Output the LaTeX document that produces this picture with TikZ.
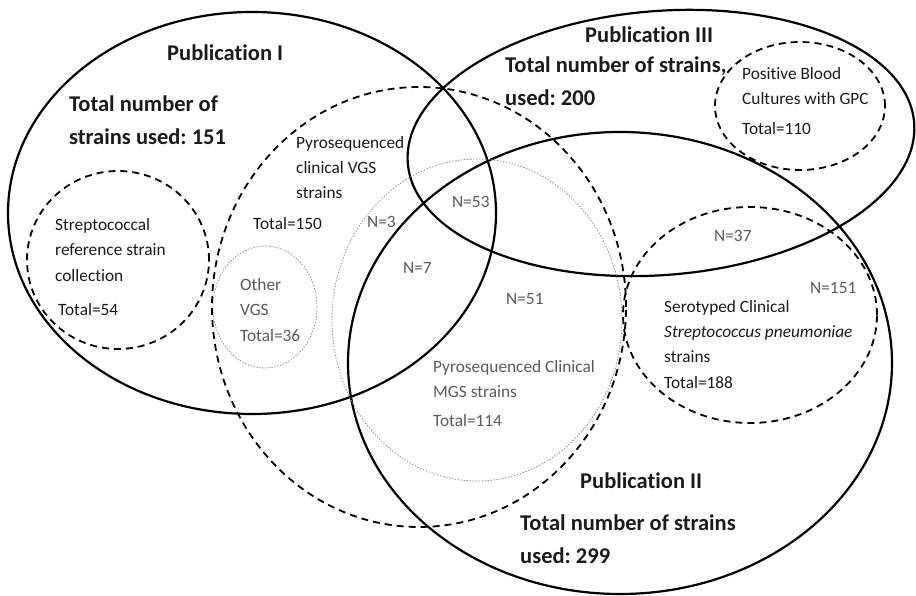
\documentclass[tikz,border=0pt]{standalone}
\usepackage{fontspec}
\setmainfont{Carlito}[Ligatures=CommonOff]
\usepackage{tikz}
\frenchspacing

\definecolor{inkdark}{HTML}{1A1A1A}
\definecolor{inkgray}{HTML}{5A5A5A}
\definecolor{dotgray}{HTML}{8C8C8C}

\tikzset{
  publine/.style={line width=2.2pt, draw=black},
  setline/.style={line width=1.8pt, draw=black, dash pattern=on 7pt off 5pt},
  subline/.style={line width=0.8pt, draw=dotgray, dash pattern=on 1.4pt off 1.6pt},
  headtxt/.style={font=\fontsize{22.5}{33}\selectfont\bfseries, text=inkdark,
    anchor=base west, inner sep=0pt, align=left},
  settxt/.style={font=\fontsize{17.3}{25.3}\selectfont, text=inkdark,
    anchor=base west, inner sep=0pt, align=left},
  cnttxt/.style={settxt, text=inkgray}
}

\begin{document}
\begin{tikzpicture}[x=1pt, y=-1pt]
\useasboundingbox (0,0) rectangle (916,596);
% ---------- centres of the sets ----------
\coordinate (pubI) at (252,213);
\coordinate (pubII) at (620,363);
\coordinate (pubIII) at (661,143);
\coordinate (vgs) at (419,307);
\coordinate (mgs) at (477,320);
\coordinate (othervgs) at (265,307);
\coordinate (refcoll) at (118,260);
\coordinate (blood) at (800,106);
\coordinate (sero) at (750,315);
% ---------- publications ----------
\draw[publine] (pubI) ellipse [x radius=244pt, y radius=201pt];
\draw[publine] (pubII) ellipse [x radius=272pt, y radius=231pt];
\draw[publine, rotate around={4.6:(pubIII)}] (pubIII) ellipse [x radius=254pt, y radius=132pt];
% ---------- strain collections ----------
\draw[setline] (vgs) ellipse [x radius=207pt, y radius=220pt];
\draw[setline] (refcoll) ellipse [x radius=91pt, y radius=89pt];
\draw[setline] (blood) ellipse [x radius=85pt, y radius=64pt];
\draw[setline] (sero) ellipse [x radius=127pt, y radius=108pt];
\draw[subline] (mgs) ellipse [x radius=145pt, y radius=161pt];
\draw[subline] (othervgs) ellipse [x radius=52pt, y radius=61pt];
% ---------- publication labels (base = last line) ----------
\node[headtxt] (pubIname) at (167,61) {Publication I};
\node[headtxt] (pubItotal) at (69,145) {Total number of\\strains used: 151};
\node[headtxt] (pubIIIname) at (585,43) {Publication III};
\node[headtxt] (pubIIItotal) at (505,106) {Total number of strains,\\used: 200};
\node[headtxt] (pubIIname) at (580,488) {Publication II};
\node[headtxt] (pubIItotal) at (520,563) {Total number of strains\\used: 299};
% ---------- collection labels ----------
\node[settxt] (vgsname) at (296,199) {Pyrosequenced\\clinical VGS\\strains};
\node[settxt] (vgstotal) at (253,230) {Total=150};
\node[settxt] (refname) at (55,281) {Streptococcal\\reference strain\\collection};
\node[settxt] (reftotal) at (58,315) {Total=54};
\node[settxt] (bloodname) at (742,135) {Positive Blood\\Cultures with GPC\\[5pt]Total=110};
\node[settxt] (seroname) at (664,388) {Serotyped Clinical\\\textit{Streptococcus pneumoniae}\\strains\\Total=188};
\node[cnttxt] (othername) at (240,341) {Other\\VGS\\Total=36};
\node[cnttxt] (mgsname) at (433,426) {Pyrosequenced Clinical\\MGS strains\\[3pt]Total=114};
% counts in the overlaps
\node[cnttxt] (nthree) at (367,228) {N=3};
\node[cnttxt] (nseven) at (403,273) {N=7};
\node[cnttxt] (nfiftythree) at (452,208) {N=53};
\node[cnttxt] (nfiftyone) at (506,305) {N=51};
\node[cnttxt] (nthirtyseven) at (714,242) {N=37};
\node[cnttxt] (nonefiftyone) at (810,294) {N=151};
\end{tikzpicture}
\end{document}
